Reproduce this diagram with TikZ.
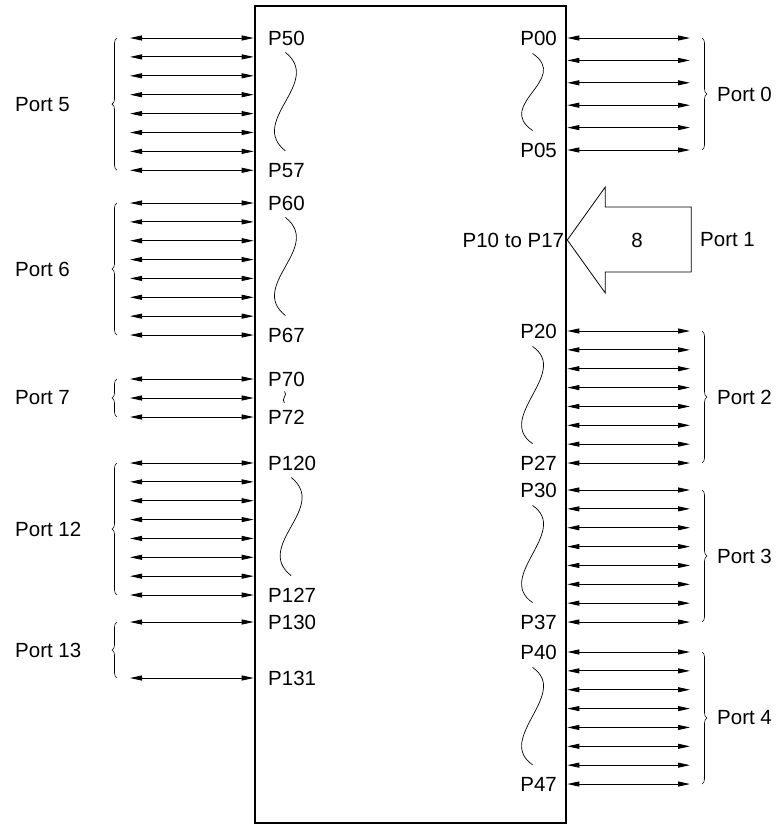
\documentclass[tikz,border=0pt]{standalone}
\usepackage{fontspec}
\setmainfont{Liberation Sans}
\usetikzlibrary{arrows.meta, positioning, calc, decorations.pathreplacing}

\begin{document}
\begin{tikzpicture}[x=1pt, y=-1pt,
    chip/.style={draw, line width=2.6pt, minimum width=311pt, minimum height=817pt, inner sep=0pt},
    portline/.style={{Triangle[length=12pt,width=5pt]}-{Triangle[length=12pt,width=5pt]}, line width=0.9pt},
    brace/.style={decorate, decoration={brace, amplitude=5pt}, line width=0.6pt},
    wave/.style={line width=0.7pt},
    bigarrow/.style={draw, line width=0.8pt, line join=miter},
    lbl/.style={font=\fontsize{20.5}{22}\selectfont, inner sep=0pt}]

    \useasboundingbox (0,0) rectangle (777,825);

    \node [chip] (mcu) at (410.5,414.5) {};

    \foreach \g/\y/\n/\s in {5/38/7/18.9, 6/203/7/18.86, 7/379/2/19, 12/463/7/18.86, 13/622/1/56} {
        \foreach \i in {0,...,\n} {
            \coordinate (p\g-\i) at (130,\y+\i*\s);
            \draw [portline] (p\g-\i) -- (p\g-\i -| mcu.west);
        }
        \draw [brace] ([xshift=-13pt]p\g-\n) -- ([xshift=-13pt]p\g-0);
        \node [lbl, anchor=west] (port\g) at ($(p\g-0)!0.5!(p\g-\n)+(-115,0)$) {Port \g};
        \node [lbl, anchor=west] (n\g0) at ([xshift=138pt]p\g-0) {P\g0};
        \node [lbl, anchor=west] (n\g\n) at ([xshift=138pt]p\g-\n) {P\g\n};
    }

    \foreach \g/\y/\n/\s in {0/38/5/22.4, 2/331/7/18.86, 3/490/7/18.86, 4/652/7/18.86} {
        \foreach \i in {0,...,\n} {
            \coordinate (p\g-\i) at (690,\y+\i*\s);
            \draw [portline] (p\g-\i -| mcu.east) -- (p\g-\i);
        }
        \draw [brace] ([xshift=12pt]p\g-0) -- ([xshift=12pt]p\g-\n);
        \node [lbl, anchor=west] (port\g) at ($(p\g-0)!0.5!(p\g-\n)+(27,0)$) {Port \g};
        \node [lbl, anchor=east] (n\g0) at ([xshift=-133pt]p\g-0) {P\g0};
        \node [lbl, anchor=east] (n\g\n) at ([xshift=-133pt]p\g-\n) {P\g\n};
    }

    \foreach \a/\b in {n50/n57, n60/n67, n120/n127}
        \draw [wave] ($(\a.south)+(-1,7)$) .. controls +(38,30) and +(-38,-30) .. ($(\b.north)+(-1,-12)$);
    \foreach \a/\b in {n00/n05, n20/n27, n30/n37, n40/n47}
        \draw [wave] ($(\a.south)+(-6,8)$) .. controls +(38,26) and +(-38,-26) .. ($(\b.north)+(-6,-12)$);
    \draw [wave] ($(n70.south)+(-2,5)$) .. controls +(4,3) and +(-4,-3) .. ($(n72.north)+(-2,-7)$);

    \coordinate (tip) at (mcu.east |- 0,240);
    \draw [bigarrow] (tip) -- ++(38,-53) -- ++(0,20) -- ++(86,0) -- ++(0,65) -- ++(-86,0) -- ++(0,21) -- cycle;
    \node [lbl] (width8) at (637,240) {8};
    \node [lbl, anchor=west] (port1) at (700,240) {Port 1};
    \node [lbl, anchor=east] (n1x) at ([xshift=-3pt]tip) {P10 to P17};
\end{tikzpicture}
\end{document}
